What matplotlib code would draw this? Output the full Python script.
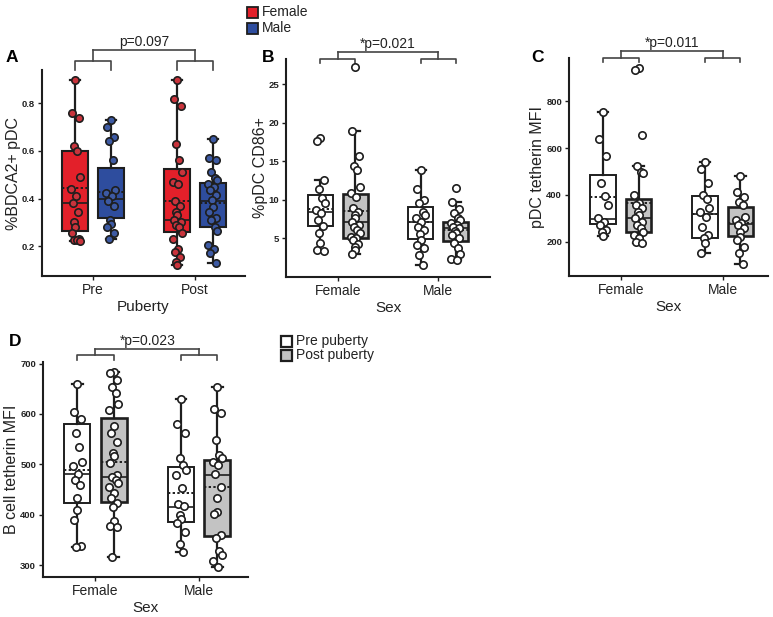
import matplotlib
matplotlib.use("Agg")
import matplotlib.pyplot as plt
import matplotlib.transforms as mtransforms
from matplotlib.patches import Rectangle

plt.rcParams['font.family'] = ['Liberation Sans', 'DejaVu Sans']

# ---------------- DATA ----------------
# Panel A: %BDCA2+ pDC by puberty (Pre/Post), Female/Male
a_groups = ["Pre", "Post"]
a_pre_f = [0.90, 0.76, 0.74, 0.62, 0.60, 0.49, 0.44, 0.41, 0.38, 0.345, 0.30, 0.28, 0.255, 0.23, 0.225, 0.225, 0.22]
a_pre_m = [0.73, 0.70, 0.66, 0.64, 0.56, 0.435, 0.425, 0.41, 0.39, 0.37, 0.31, 0.295, 0.28, 0.255, 0.23]
a_post_f = [0.90, 0.82, 0.79, 0.63, 0.56, 0.51, 0.47, 0.46, 0.39, 0.37, 0.345, 0.33, 0.31, 0.30, 0.29, 0.28,
            0.255, 0.23, 0.19, 0.175, 0.155, 0.135, 0.12]
a_post_m = [0.65, 0.57, 0.56, 0.51, 0.485, 0.48, 0.46, 0.45, 0.435, 0.415, 0.395, 0.365, 0.345, 0.32, 0.31,
            0.28, 0.265, 0.205, 0.19, 0.17, 0.13]
# box stats order: Pre-F, Pre-M, Post-F, Post-M
a_q1 = [0.262, 0.32, 0.258, 0.28]
a_med = [0.382, 0.40, 0.31, 0.39]
a_q3 = [0.60, 0.53, 0.524, 0.464]
a_mean = [0.443, 0.426, 0.39, 0.38]
a_lo = [0.22, 0.23, 0.12, 0.13]
a_hi = [0.90, 0.73, 0.90, 0.65]

sex_groups = ["Female", "Male"]
# Panel B: %pDC CD86+
b_f_pre = [18.0, 17.7, 12.6, 11.4, 10.2, 9.6, 8.7, 8.3, 7.4, 6.6, 5.7, 4.4, 3.5, 3.4]
b_f_post = [27.2, 18.9, 15.7, 14.4, 13.9, 11.7, 10.9, 10.4, 8.9, 8.5, 8.0, 7.6, 7.2, 6.7, 6.5, 6.1, 5.7,
            5.2, 5.0, 4.8, 4.3, 3.9, 3.5, 3.0]
b_m_pre = [13.9, 11.4, 10.0, 9.6, 8.4, 8.0, 7.6, 7.2, 6.5, 6.1, 5.6, 4.8, 4.1, 3.7, 2.9, 1.5]
b_m_post = [11.5, 9.8, 8.8, 8.3, 7.6, 7.4, 7.0, 6.8, 6.5, 6.3, 6.0, 5.7, 5.4, 5.0, 4.4, 3.7, 3.0, 2.4, 2.2]
# order: F-pre, F-post, M-pre, M-post
b_q1 = [6.65, 5.1, 4.9, 4.65]
b_med = [8.43, 7.1, 7.2, 6.4]
b_q3 = [10.65, 10.8, 9.1, 7.1]
b_mean = [8.8, 8.6, 7.2, 6.1]
b_lo = [3.4, 3.0, 1.5, 2.2]
b_hi = [12.6, 18.9, 13.9, 9.8]

# Panel C: pDC tetherin MFI
c_f_pre = [753, 639, 567, 453, 396, 357, 300, 286, 271, 250, 240, 224]
c_f_post = [943, 933, 657, 524, 500, 493, 400, 364, 357, 343, 329, 314, 300, 286, 271, 257, 243, 229,
            214, 200, 196]
c_m_pre = [543, 510, 450, 400, 382, 343, 329, 307, 264, 229, 214, 193, 150]
c_m_post = [482, 414, 393, 371, 357, 307, 293, 279, 270, 257, 243, 221, 207, 176, 150, 103]
c_q1 = [274, 243, 214, 224]
c_med = [296, 303, 319, 274]
c_q3 = [486, 381, 397, 347]
c_mean = [389, 364, 320, 281]
c_lo = [224, 196, 150, 103]
c_hi = [753, 524, 543, 482]

# Panel D: B cell tetherin MFI
d_f_pre = [660, 603, 591, 562, 535, 504, 496, 481, 469, 460, 434, 410, 390, 339, 336]
d_f_post = [684, 682, 667, 654, 641, 620, 608, 576, 563, 545, 522, 516, 502, 479, 476, 469, 464, 456,
            444, 433, 423, 415, 387, 378, 377, 316]
d_m_pre = [630, 581, 563, 512, 499, 489, 479, 453, 422, 418, 400, 392, 384, 367, 342, 326]
d_m_post = [653, 610, 602, 548, 518, 512, 505, 499, 482, 456, 433, 406, 402, 360, 354, 328, 321, 308, 297]
d_q1 = [423, 425, 386, 359]
d_med = [481, 475, 416, 480]
d_q3 = [580, 593, 494, 508]
d_mean = [490, 504, 444, 456]
d_lo = [336, 316, 326, 297]
d_hi = [660, 684, 630, 653]

p_texts = ["p=0.097", "*p=0.021", "*p=0.011", "*p=0.023"]

# ---------------- STYLE ----------------
RED = "#e3202a"
BLUE = "#2e4d9e"
RED_PT = "#c9343c"
BLUE_PT = "#3d5aa3"
GRAY = "#c3c3c3"
DARK = "#1e1e1e"
OFF = 0.175
BW = 0.25
JIT = [0.0, -0.035, 0.035, -0.015, 0.02, 0.045, -0.045, 0.008, -0.025, 0.03, -0.008]

W, H = 773, 617
fig = plt.figure(figsize=(W / 100, H / 100), dpi=100)


def ax_px(x0, x1, ytop, ybot):
    return fig.add_axes([x0 / W, 1 - ybot / H, (x1 - x0) / W, (ybot - ytop) / H])


def style_ax(ax, xt, ylabel, xlabel, ylim, yticks, yfmt, xlim):
    for s in ["top", "right"]:
        ax.spines[s].set_visible(False)
    for s in ["left", "bottom"]:
        ax.spines[s].set_linewidth(1.5)
        ax.spines[s].set_color(DARK)
    ax.set_xlim(*xlim)
    ax.set_ylim(*ylim)
    ax.set_xticks([0, 1])
    ax.set_xticklabels(xt, fontsize=10, color="#222")
    ax.set_yticks(yticks)
    ax.set_yticklabels([yfmt.format(v) for v in yticks], fontsize=6.8, fontweight="bold", color="#222")
    ax.tick_params(axis="both", length=3, width=1, color=DARK, pad=2)
    ax.set_ylabel(ylabel, fontsize=11.5, color="#222", labelpad=0.5)
    ax.set_xlabel(xlabel, fontsize=11, color="#222", labelpad=2)


def draw_boxes(ax, positions, q1, med, q3, mean, lo, hi, fills, lws):
    for i in range(len(positions)):
        st = dict(q1=q1[i], med=med[i], q3=q3[i], mean=mean[i],
                  whislo=lo[i], whishi=hi[i], fliers=[])
        ax.bxp([st], positions=[positions[i]], widths=BW, patch_artist=True,
               showmeans=True, meanline=True, showfliers=False, capwidths=0.1,
               boxprops=dict(facecolor=fills[i], edgecolor=DARK, linewidth=lws[i]),
               medianprops=dict(color=DARK, linewidth=1.2),
               meanprops=dict(color=DARK, linestyle=(0, (1.2, 1.2)), linewidth=1.4),
               whiskerprops=dict(color=DARK, linewidth=1.6),
               capprops=dict(color=DARK, linewidth=1.6), manage_ticks=False, zorder=2)


def draw_points(ax, positions, series, fcs, ms=5.3):
    for pos, vals, fc in zip(positions, series, fcs):
        xs = [pos + JIT[k % len(JIT)] for k in range(len(vals))]
        ax.plot(xs, vals, linestyle="none", marker="o", markersize=ms, markerfacecolor=fc,
                markeredgecolor=DARK, markeredgewidth=1.2, zorder=3, clip_on=False)


def bracket(ax, y_small, y_leg, y_top, y_text, text):
    tr = mtransforms.blended_transform_factory(ax.transData, ax.transAxes)
    kw = dict(color="#444", linewidth=1.2, transform=tr, clip_on=False)
    for c in [0, 1]:
        ax.plot([c - OFF, c - OFF, c + OFF, c + OFF], [y_leg, y_small, y_small, y_leg], **kw)
        ax.plot([c, c], [y_small, y_top], **kw)
    ax.plot([0, 1], [y_top, y_top], **kw)
    ax.text(0.5, y_text, text, transform=tr, ha="center", va="center", fontsize=10, color="#222")


pos4 = [-OFF, OFF, 1 - OFF, 1 + OFF]

# ---------------- Panel A ----------------
axA = ax_px(42, 245, 70, 276)
draw_boxes(axA, pos4, a_q1, a_med, a_q3, a_mean, a_lo, a_hi, [RED, BLUE, RED, BLUE], [1.5] * 4)
draw_points(axA, pos4, [a_pre_f, a_pre_m, a_post_f, a_post_m], [RED_PT, BLUE_PT, RED_PT, BLUE_PT])
style_ax(axA, a_groups, "%BDCA2+ pDC", "Puberty", (0.075, 0.94), [0.2, 0.4, 0.6, 0.8], "{:.1f}", (-0.5, 1.49))
bracket(axA, 1.044, 1.0, 1.097, 1.135, p_texts[0])

# ---------------- Panel B ----------------
axB = ax_px(286, 490, 59, 277)
draw_boxes(axB, pos4, b_q1, b_med, b_q3, b_mean, b_lo, b_hi, ["white", GRAY, "white", GRAY], [1.4, 1.9, 1.4, 1.9])
draw_points(axB, pos4, [b_f_pre, b_f_post, b_m_pre, b_m_post], ["white"] * 4)
style_ax(axB, sex_groups, "%pDC CD86+", "Sex", (0, 28.3), [5, 10, 15, 20, 25], "{:d}", (-0.514, 1.514))
bracket(axB, 1.0, 0.982, 1.03, 1.07, p_texts[1])

# ---------------- Panel C ----------------
axC = ax_px(569, 768, 58, 276)
draw_boxes(axC, pos4, c_q1, c_med, c_q3, c_mean, c_lo, c_hi, ["white", GRAY, "white", GRAY], [1.4, 1.9, 1.4, 1.9])
draw_points(axC, pos4, [c_f_pre, c_f_post, c_m_pre, c_m_post], ["white"] * 4)
style_ax(axC, sex_groups, "pDC tetherin MFI", "Sex", (53, 986), [200, 400, 600, 800], "{:d}", (-0.508, 1.445))
bracket(axC, 1.0, 0.982, 1.03, 1.07, p_texts[2])

# ---------------- Panel D ----------------
axD = ax_px(43, 248, 362, 577)
draw_boxes(axD, pos4, d_q1, d_med, d_q3, d_mean, d_lo, d_hi, ["white", GRAY, "white", GRAY], [1.4, 1.9, 1.4, 1.9])
draw_points(axD, pos4, [d_f_pre, d_f_post, d_m_pre, d_m_post], ["white"] * 4)
style_ax(axD, sex_groups, "B cell tetherin MFI", "Sex", (277, 703), [300, 400, 500, 600, 700], "{:d}", (-0.506, 1.47))
bracket(axD, 1.034, 1.011, 1.062, 1.10, p_texts[3])

# ---------------- Panel letters ----------------
for lab, (px, py) in zip("ABCD", [(12, 58), (268, 58), (538, 57), (15, 342)]):
    fig.text(px / W, 1 - py / H, lab, fontsize=12.5, fontweight="bold", ha="center", va="center")

# ---------------- Legends ----------------
def legend_item(px, py, fc, label, lw=1.3):
    fig.patches.append(Rectangle((px / W, 1 - (py + 5.5) / H), 11 / W, 11 / H, transform=fig.transFigure,
                                 facecolor=fc, edgecolor=DARK, linewidth=lw))
    fig.text((px + 15) / W, 1 - py / H, label, fontsize=10, ha="left", va="center", color="#222")

legend_item(247, 12, RED, "Female")
legend_item(247, 28, BLUE, "Male")
legend_item(281, 341, "white", "Pre puberty", lw=1.6)
legend_item(281, 355, GRAY, "Post puberty", lw=1.6)

fig.savefig("out.png", dpi=100)
